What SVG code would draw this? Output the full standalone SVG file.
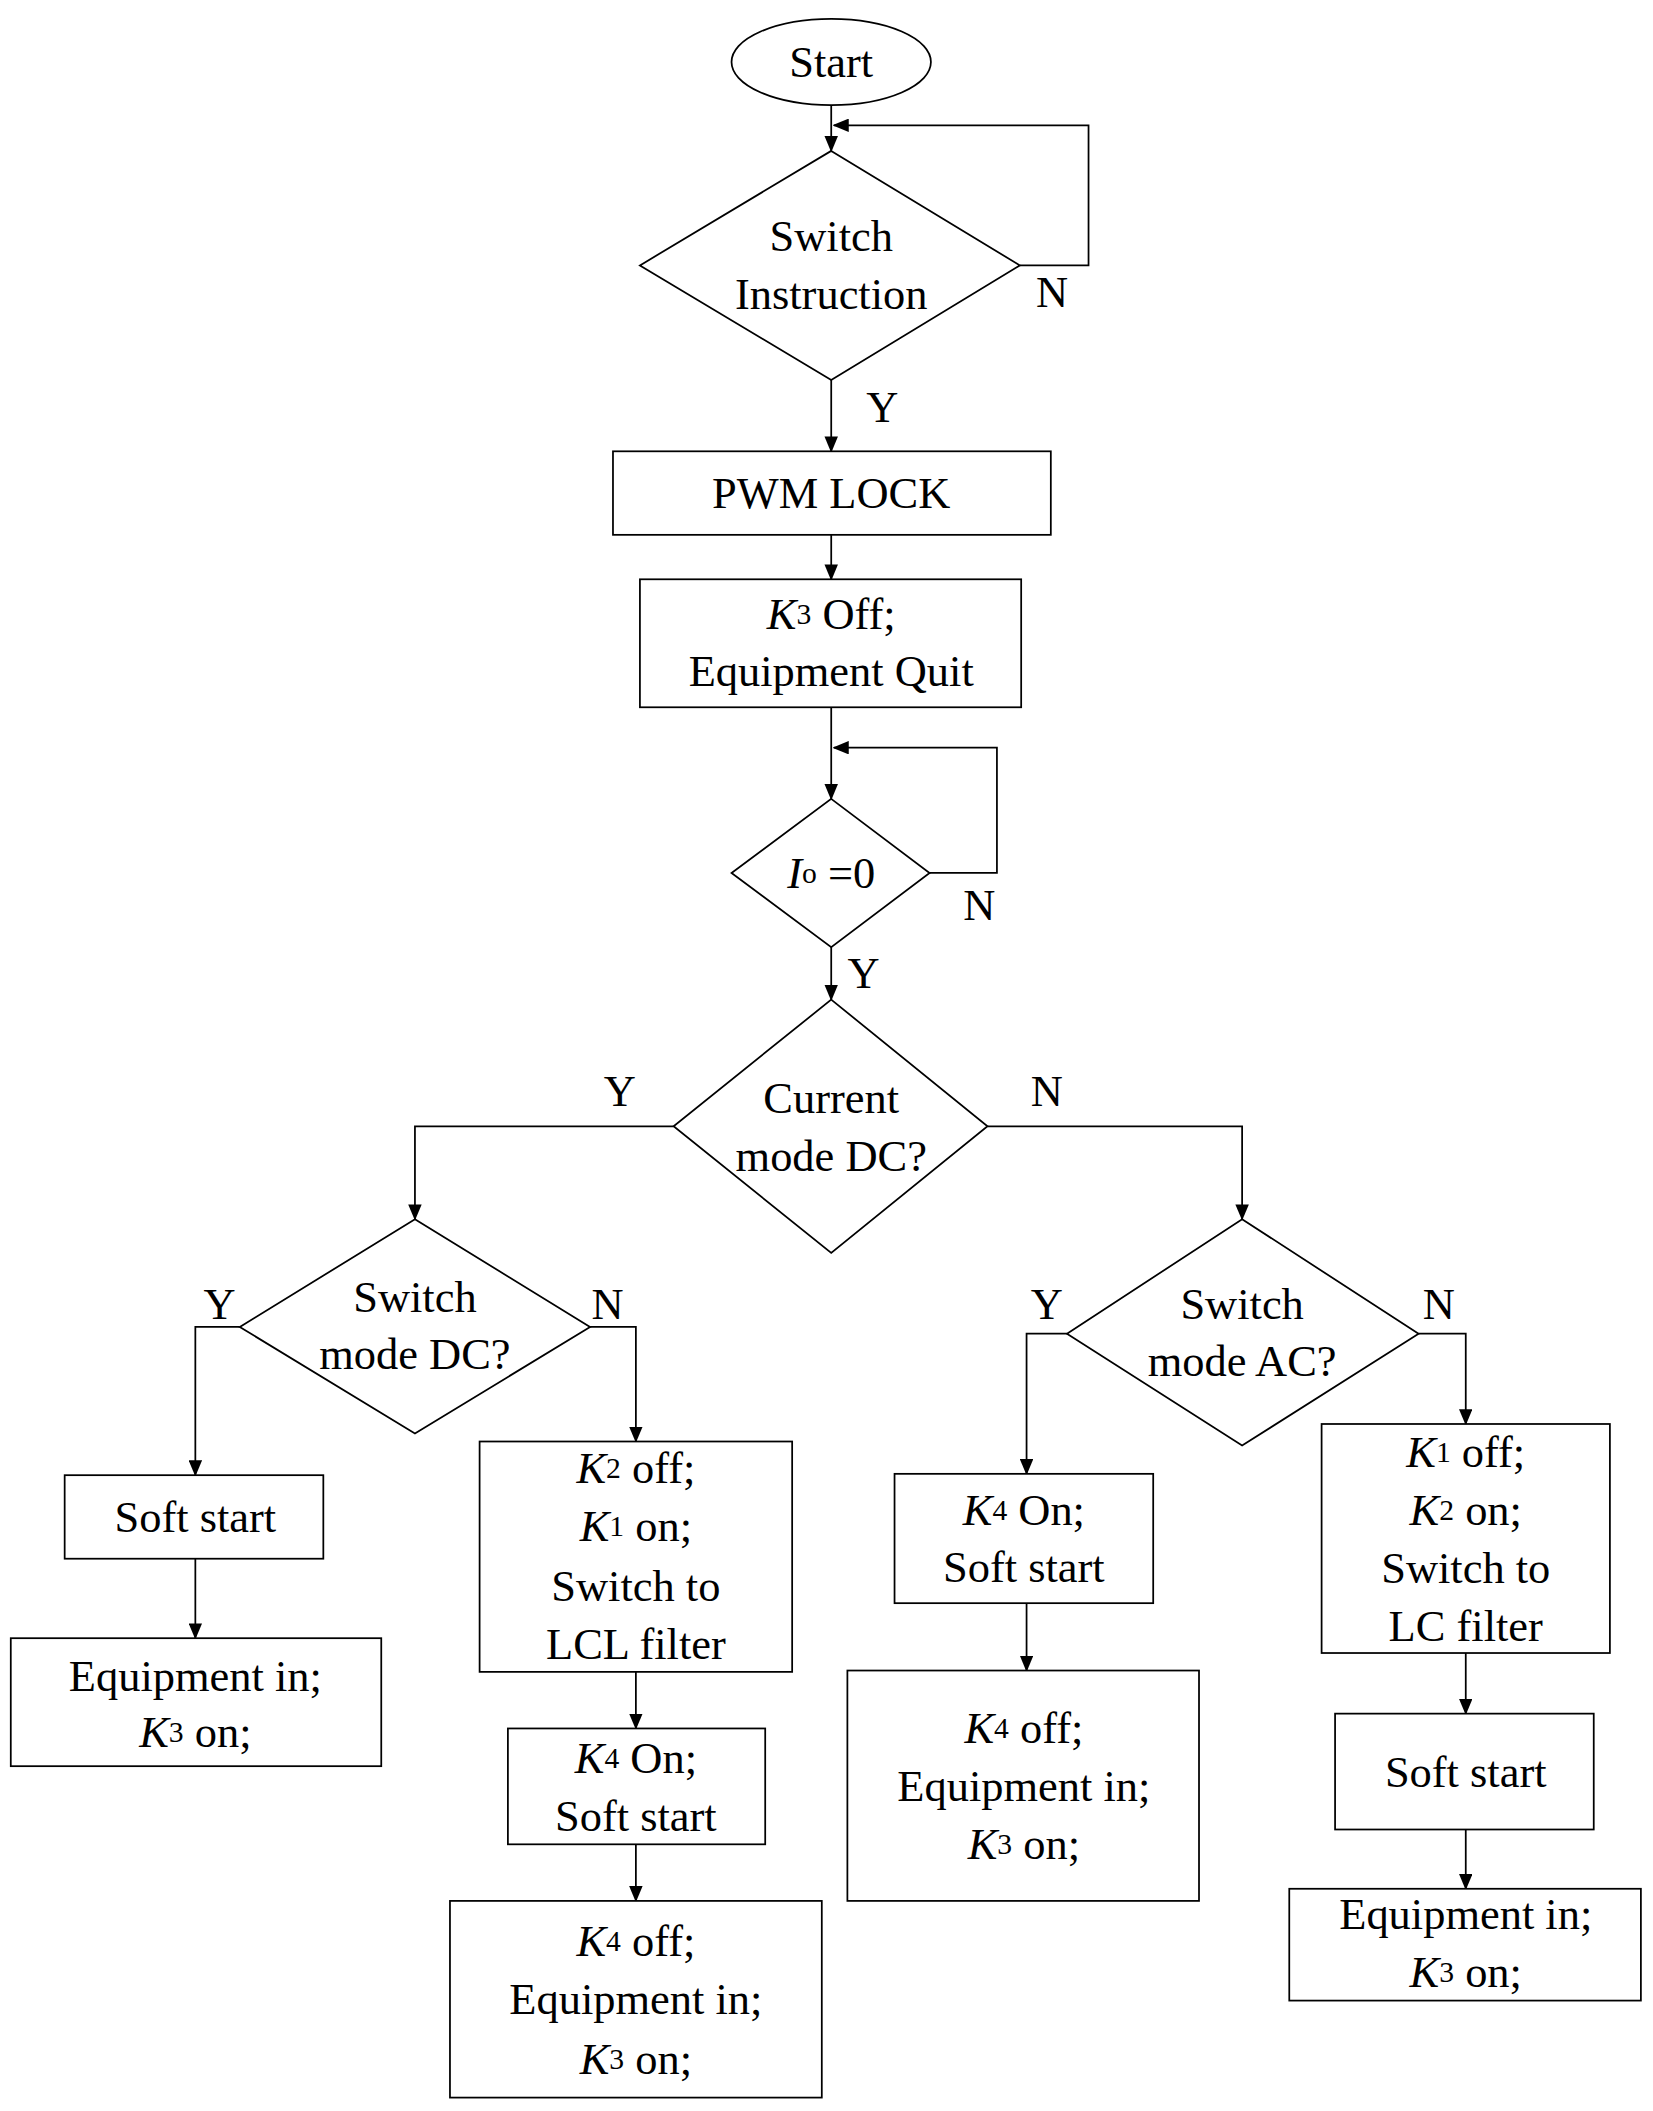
<svg xmlns="http://www.w3.org/2000/svg" width="1653" height="2111" viewBox="0 0 1653 2111">
<style>
.s{fill:#fff;stroke:#000;stroke-width:1.3}
.l{fill:none;stroke:#000;stroke-width:1.3;marker-end:url(#a)}
text{font-family:"Liberation Serif",serif;font-size:33px;text-anchor:middle;dominant-baseline:central;fill:#000}
.i{font-style:italic}
.sb{font-size:22px}
</style>
<defs><marker id="a" markerWidth="12" markerHeight="10" refX="11" refY="5" orient="auto" markerUnits="userSpaceOnUse"><path d="M0,0L12,5L0,10z"/></marker></defs>
<rect width="1653" height="2111" fill="#fff"/>
<g transform="scale(1.3472)">
<g id="connectors">
<path class="l" d="M617,78V112"/>
<path class="l" d="M757,197H808V93H619"/>
<path class="l" d="M617,282V335"/>
<path class="l" d="M617,397V430"/>
<path class="l" d="M617,525V593"/>
<path class="l" d="M690,648H740V555H619"/>
<path class="l" d="M617,703V742"/>
<path class="l" d="M500,836H308V905"/>
<path class="l" d="M733,836H922V905"/>
<path class="l" d="M178,985H145V1095"/>
<path class="l" d="M438,985H472V1070"/>
<path class="l" d="M145,1157V1216"/>
<path class="l" d="M472,1241V1283"/>
<path class="l" d="M472,1369V1411"/>
<path class="l" d="M792,990H762V1094"/>
<path class="l" d="M1053,990H1088V1057"/>
<path class="l" d="M762,1190V1240"/>
<path class="l" d="M1088,1227V1272"/>
<path class="l" d="M1088,1358V1402"/>
<text x="781" y="217">N</text><text x="655" y="302">Y</text>
<text x="727" y="672">N</text><text x="641" y="722">Y</text>
<text x="460" y="810">Y</text><text x="777" y="810">N</text>
<text x="163" y="968">Y</text><text x="451" y="968">N</text>
<text x="777" y="968">Y</text><text x="1068" y="968">N</text>
</g>
<g id="start"><ellipse class="s" cx="617" cy="46" rx="74" ry="32"/><text x="617" y="46">Start</text></g>
<g id="d1"><path class="s" d="M617,112L757,197L617,282L475,197Z"/><text x="617" y="175">Switch</text><text x="617" y="218">Instruction</text></g>
<g id="pwm"><rect class="s" x="455" y="335" width="325" height="62"/><text x="617" y="366">PWM LOCK</text></g>
<g id="k3off"><rect class="s" x="475" y="430" width="283" height="95"/><text x="617" y="456"><tspan class="i">K</tspan><tspan class="sb">3</tspan>  Off;</text><text x="617" y="498">Equipment Quit</text></g>
<g id="d2"><path class="s" d="M617,593L690,648L617,703L543,648Z"/><text x="617" y="648"><tspan class="i">I</tspan><tspan class="sb">o</tspan> =0</text></g>
<g id="d3"><path class="s" d="M617,742L733,836L617,930L500,836Z"/><text x="617" y="815">Current</text><text x="617" y="858">mode DC?</text></g>
<g id="d4"><path class="s" d="M308,905L438,985L308,1064L178,985Z"/><text x="308" y="963">Switch</text><text x="308" y="1005">mode DC?</text></g>
<g id="d5"><path class="s" d="M922,905L1053,990L922,1073L792,990Z"/><text x="922" y="968">Switch</text><text x="922" y="1010">mode AC?</text></g>
<g id="ss1"><rect class="s" x="48" y="1095" width="192" height="62"/><text x="145" y="1126">Soft start</text></g>
<g id="ei1"><rect class="s" x="8" y="1216" width="275" height="95"/><text x="145" y="1244">Equipment in;</text><text x="145" y="1286"><tspan class="i">K</tspan><tspan class="sb">3</tspan> on;</text></g>
<g id="lcl"><rect class="s" x="356" y="1070" width="232" height="171"/><text x="472" y="1090"><tspan class="i">K</tspan><tspan class="sb">2</tspan> off;</text><text x="472" y="1133"><tspan class="i">K</tspan><tspan class="sb">1</tspan> on;</text><text x="472" y="1177">Switch to</text><text x="472" y="1220">LCL filter</text></g>
<g id="k4a"><rect class="s" x="377" y="1283" width="191" height="86"/><text x="472" y="1305"><tspan class="i">K</tspan><tspan class="sb">4</tspan> On;</text><text x="472" y="1348">Soft start</text></g>
<g id="ei2"><rect class="s" x="334" y="1411" width="276" height="146"/><text x="472" y="1441"><tspan class="i">K</tspan><tspan class="sb">4</tspan> off;</text><text x="472" y="1484">Equipment in;</text><text x="472" y="1528"><tspan class="i">K</tspan><tspan class="sb">3</tspan> on;</text></g>
<g id="k4b"><rect class="s" x="664" y="1094" width="192" height="96"/><text x="760" y="1121"><tspan class="i">K</tspan><tspan class="sb">4</tspan> On;</text><text x="760" y="1163">Soft start</text></g>
<g id="ei3"><rect class="s" x="629" y="1240" width="261" height="171"/><text x="760" y="1283"><tspan class="i">K</tspan><tspan class="sb">4</tspan> off;</text><text x="760" y="1326">Equipment in;</text><text x="760" y="1369"><tspan class="i">K</tspan><tspan class="sb">3</tspan> on;</text></g>
<g id="lc"><rect class="s" x="981" y="1057" width="214" height="170"/><text x="1088" y="1078"><tspan class="i">K</tspan><tspan class="sb">1</tspan> off;</text><text x="1088" y="1121"><tspan class="i">K</tspan><tspan class="sb">2</tspan> on;</text><text x="1088" y="1164">Switch to</text><text x="1088" y="1207">LC filter</text></g>
<g id="ss4"><rect class="s" x="991" y="1272" width="192" height="86"/><text x="1088" y="1315">Soft start</text></g>
<g id="ei4"><rect class="s" x="957" y="1402" width="261" height="83"/><text x="1088" y="1421">Equipment in;</text><text x="1088" y="1464"><tspan class="i">K</tspan><tspan class="sb">3</tspan> on;</text></g>
</g>
</svg>
